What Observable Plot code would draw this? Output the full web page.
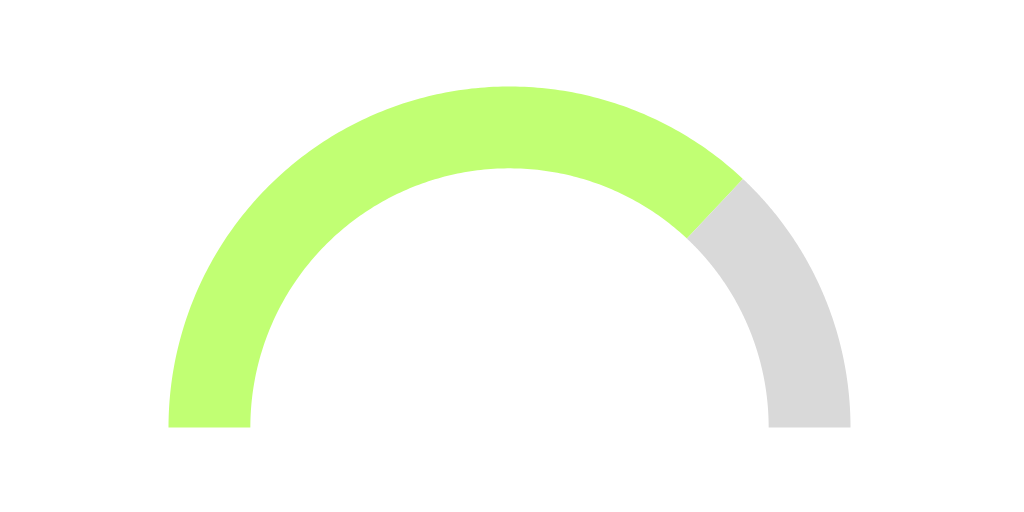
<!DOCTYPE html>
<html>
<head>
<meta charset="utf-8">
<script src="https://cdn.jsdelivr.net/npm/d3@7"></script>
<script src="https://cdn.jsdelivr.net/npm/@observablehq/plot@0.6"></script>
<style>
  html, body { margin: 0; padding: 0; background: #ffffff; }
</style>
</head>
<body>
<div id="chart"></div>
<script>
// Gauge data
const gaugeValue = 0.74;
const gaugeMax = 1;
const segmentNames = ["value", "remainder"];
const segmentColors = ["#c1ff73", "#d9d9d9"];
const innerRatio = 0.76;

// Build segment bounds from data
const bounds = [[0, gaugeValue / gaugeMax], [gaugeValue / gaugeMax, 1]];
const steps = 180;
const pts = [];
bounds.forEach(([t0, t1], i) => {
  const outer = [], inner = [];
  for (let k = 0; k <= steps; k++) {
    const t = t0 + (t1 - t0) * k / steps;
    const a = Math.PI * (1 - t);
    outer.push({seg: segmentNames[i], color: segmentColors[i], x: Math.cos(a), y: Math.sin(a)});
    inner.push({seg: segmentNames[i], color: segmentColors[i], x: innerRatio * Math.cos(a), y: innerRatio * Math.sin(a)});
  }
  pts.push(...outer, ...inner.reverse());
});

const W = 1024, H = 512, R = 341, cx = 509, cy = 427;
const chart = Plot.plot({
  width: W,
  height: H,
  margin: 0,
  x: {domain: [-cx / R, (W - cx) / R], axis: null},
  y: {domain: [-(H - cy) / R, cy / R], axis: null},
  color: {type: "identity"},
  marks: [
    Plot.line(pts, {x: "x", y: "y", z: "seg", fill: "color", stroke: "none"})
  ]
});
document.getElementById("chart").appendChild(chart);
</script>
</body>
</html>
